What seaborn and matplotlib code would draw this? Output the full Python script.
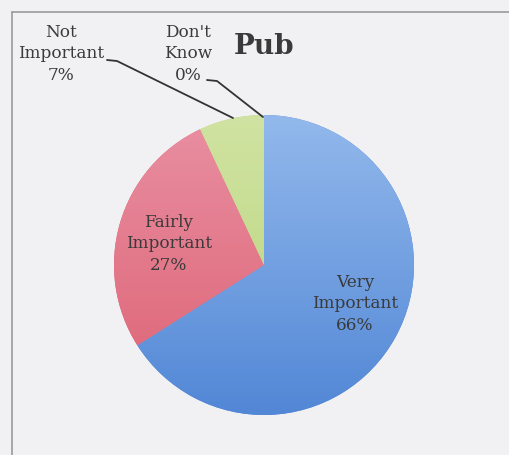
import numpy as np
import matplotlib
matplotlib.use("Agg")
import matplotlib.pyplot as plt
from matplotlib.colors import LinearSegmentedColormap
from matplotlib.lines import Line2D
import seaborn as sns

# Survey responses for "Pub"
categories = ["Very\nImportant", "Fairly\nImportant", "Not\nImportant", "Don't\nKnow"]
percent = [66, 27, 7, 0]
title = "Pub"

# light top / darker bottom tones for each slice
top_colors = ["#93b9ec", "#e98fa2", "#d0e3a2", "#d0e3a2"]
bottom_colors = ["#5287d6", "#dc6273", "#b8d379", "#b8d379"]

sns.set_theme(style="white")
plt.rcParams["font.family"] = ["DejaVu Serif"]

W, H = 510, 455
fig = plt.figure(figsize=(W / 100, H / 100), dpi=100)
fig.patch.set_facecolor("#f1f1f4")


def fx(px):
    return px / W


def fy(py):
    return 1 - py / H


# pie area: center (264, 265), radius 150 px
cx, cy, r = 264, 265, 150
ax = fig.add_axes([fx(cx - r), fy(cy + r), 2 * r / W, 2 * r / H])
ax.axis("off")

wedges, _ = ax.pie(percent, startangle=90, counterclock=False, radius=1,
                   colors=bottom_colors, wedgeprops=dict(linewidth=0))

# vertical gradient inside each wedge
grad = np.linspace(0, 1, 256).reshape(-1, 1)
for w, c_top, c_bot in zip(wedges, top_colors, bottom_colors):
    if w.theta1 == w.theta2:
        continue
    cmap = LinearSegmentedColormap.from_list("g", [c_top, c_bot])
    im = ax.imshow(grad, cmap=cmap, extent=[-1, 1, -1, 1], origin="upper",
                   aspect="auto", zorder=w.get_zorder() + 0.1)
    im.set_clip_path(w)

ax.set_xlim(-1, 1)
ax.set_ylim(-1, 1)
ax.set_aspect("equal")

txt = dict(color="#3a3a3a", fontsize=12.2, ha="center", va="center",
           linespacing=1.38)

fig.text(fx(355), fy(304), f"{categories[0]}\n{percent[0]}%", **txt)
fig.text(fx(169), fy(244), f"{categories[1]}\n{percent[1]}%", **txt)
fig.text(fx(61), fy(54), f"{categories[2]}\n{percent[2]}%", **txt)
fig.text(fx(188), fy(54), f"{categories[3]}\n{percent[3]}%", **txt)

fig.text(fx(264), fy(47), title, color="#3a3a3a", fontsize=20,
         fontweight="bold", ha="center", va="center")

# leader lines for the small slices
for pts in ([(107, 60), (117, 61), (233, 118)],
            [(207, 80), (217, 81), (263, 117)]):
    xs = [fx(p[0]) for p in pts]
    ys = [fy(p[1]) for p in pts]
    fig.add_artist(Line2D(xs, ys, color="#333333", lw=1.3))

# chart frame
fig.add_artist(Line2D([fx(12), fx(12)], [fy(12), 0], color="#9a9a9a", lw=1.2))
fig.add_artist(Line2D([fx(12), 1], [fy(12), fy(12)], color="#9a9a9a", lw=1.2))

fig.savefig("out.png", dpi=100, facecolor=fig.get_facecolor())
